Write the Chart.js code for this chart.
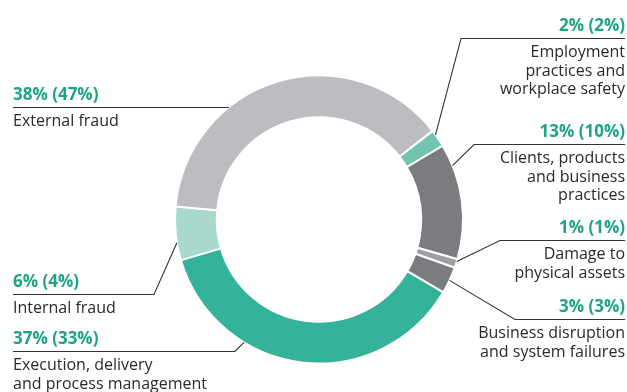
<!DOCTYPE html>
<html>
<head>
<meta charset="utf-8">
<script src="https://cdn.jsdelivr.net/npm/chart.js@4/dist/chart.umd.min.js"></script>
<style>
  html, body { margin: 0; padding: 0; background: #fff; }
  #wrap { position: relative; width: 627px; height: 392px; }
</style>
</head>
<body>
<div id="wrap"><canvas id="lossChart" width="627" height="392"></canvas></div>
<script>
// ---- Data ----
const categories = [
  "Employment practices and workplace safety",
  "Clients, products and business practices",
  "Damage to physical assets",
  "Business disruption and system failures",
  "Execution, delivery and process management",
  "Internal fraud",
  "External fraud"
];
const shareNow  = [2, 13, 1, 3, 37, 6, 38];   // current share, %
const sharePrev = [2, 10, 1, 3, 33, 4, 47];   // previous share, % (in brackets)
const labelLines = [
  ["Employment", "practices and", "workplace safety"],
  ["Clients, products", "and business", "practices"],
  ["Damage to", "physical assets"],
  ["Business disruption", "and system failures"],
  ["Execution, delivery", "and process management"],
  ["Internal fraud"],
  ["External fraud"]
];

// ---- Styles ----
const sliceColors = ["#72c3af", "#7b7c80", "#9e9fa3", "#7b7c80", "#34b29a", "#a9d9cd", "#bcbdc1"];
const TEAL_TEXT = "#1ea386";
const DARK_TEXT = "#2a2a2a";
const LINE_COL  = "#333333";
const FONT = "'Open Sans', Roboto, sans-serif";

// label placement: side, y of underline, x where the leader bends, angle (deg, clockwise from top) it meets the ring
const callouts = [
  { side: "right", lineY: 38.5,  bendX: 461, angle: 54 },
  { side: "right", lineY: 144.5, bendX: 474, angle: 68 },
  { side: "right", lineY: 240.5, bendX: 500, angle: 107 },
  { side: "right", lineY: 319.5, bendX: 515, angle: 115 },
  { side: "left",  lineY: 351.5, bendX: 235, angle: 211.4 },
  { side: "left",  lineY: 294.5, bendX: 154, angle: 260.7 },
  { side: "left",  lineY: 107.5, bendX: null, angle: 321.3 }
];
const LEFT_X = 13, RIGHT_X = 625;

const leaderLabels = {
  id: "leaderLabels",
  afterDraw(chart) {
    const ctx = chart.ctx;
    const arc0 = chart.getDatasetMeta(0).data[0];
    const cx = arc0.x, cy = arc0.y, r = arc0.outerRadius;

    ctx.save();
    callouts.forEach((c, i) => {
      const a = c.angle * Math.PI / 180;
      const tx = cx + r * Math.sin(a);
      const ty = cy - r * Math.cos(a);
      const startX = c.side === "left" ? LEFT_X : RIGHT_X;

      // leader line
      ctx.beginPath();
      ctx.strokeStyle = LINE_COL;
      ctx.lineWidth = 1.1;
      ctx.moveTo(startX, c.lineY);
      if (c.bendX !== null) {
        ctx.lineTo(c.bendX, c.lineY);
        ctx.lineTo(tx, ty);
      } else {
        ctx.lineTo(tx, c.lineY);
      }
      ctx.stroke();

      ctx.textAlign = c.side === "left" ? "left" : "right";
      ctx.textBaseline = "alphabetic";

      // value text
      ctx.fillStyle = TEAL_TEXT;
      ctx.font = "bold 17px " + FONT;
      ctx.fillText(shareNow[i] + "% (" + sharePrev[i] + "%)", startX, c.lineY - 8);

      // description
      ctx.fillStyle = DARK_TEXT;
      ctx.font = "16px " + FONT;
      labelLines[i].forEach((ln, k) => {
        ctx.fillText(ln, startX, c.lineY + 18.5 + k * 18.5);
      });
    });
    ctx.restore();
  }
};

new Chart(document.getElementById("lossChart").getContext("2d"), {
  type: "doughnut",
  data: {
    labels: categories,
    datasets: [{
      data: shareNow,
      backgroundColor: sliceColors,
      borderColor: "#ffffff",
      borderWidth: 2,
      hoverOffset: 0
    }]
  },
  options: {
    responsive: false,
    animation: false,
    rotation: 52,
    cutout: "71%",
    layout: { padding: { left: 174, right: 163, top: 74.5, bottom: 27.5 } },
    plugins: {
      legend: { display: false },
      tooltip: { enabled: false }
    }
  },
  plugins: [leaderLabels]
});
</script>
</body>
</html>
